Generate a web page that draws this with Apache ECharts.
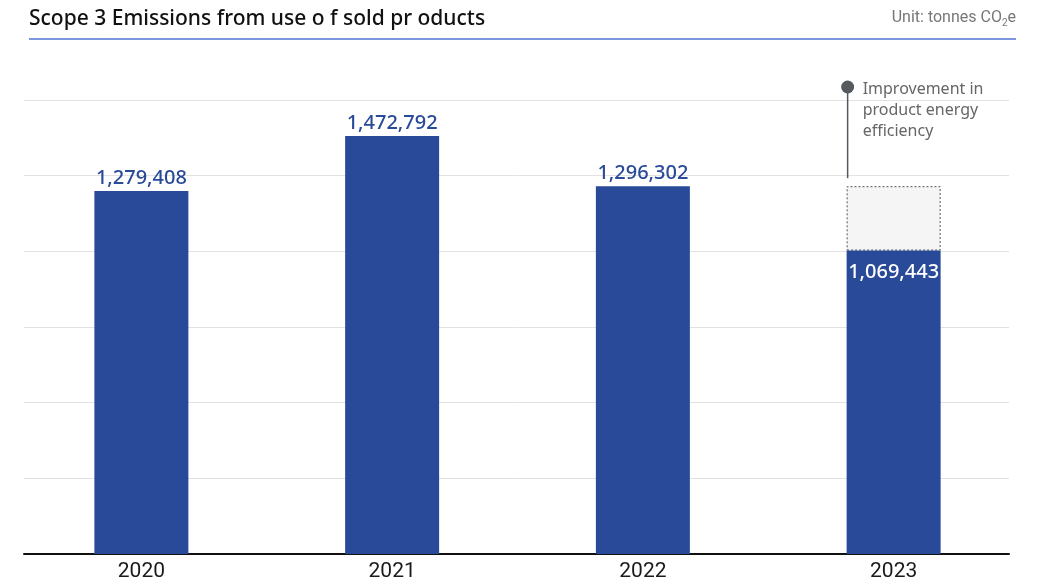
<!DOCTYPE html>
<html>
<head>
<meta charset="utf-8">
<script src="https://cdn.jsdelivr.net/npm/echarts@6/dist/echarts.min.js"></script>
<style>
  html, body { margin: 0; padding: 0; background: #ffffff; }
  #chart { width: 1049px; height: 584px; }
</style>
</head>
<body>
<div id="chart"></div>
<script>
// Scope 3 emissions from use of sold products, tonnes CO2e
const years = ['2020', '2021', '2022', '2023'];
const emissions = [1279408, 1472792, 1296302, 1069443];
// reduction shown as the dotted segment stacked on 2023
const improvement = ['-', '-', '-', 226859];
const annotationLines = ['Improvement in', 'product energy', 'efficiency'];

const BLUE = '#294a99';
const AXIS_MAX = 1600000;
const AXIS_STEP = AXIS_MAX / 6;

const fmt = v => Number(v).toLocaleString('en-US');

const chart = echarts.init(document.getElementById('chart'), null, { renderer: 'canvas' });

const emissionData = emissions.map((v, i) => {
  const last = i === emissions.length - 1;
  return {
    value: v,
    label: last
      ? { position: 'insideTop', distance: 12, color: '#ffffff' }
      : { position: 'top', distance: 3, color: BLUE }
  };
});

const option = {
  animation: false,
  backgroundColor: '#ffffff',
  grid: [
    // grid carrying the horizontal rules and the baseline
    { left: 24, right: 40, top: 100, bottom: 30 },
    // grid carrying the bars
    { left: 16, right: 30, top: 100, bottom: 30 }
  ],
  xAxis: [
    {
      gridIndex: 0, type: 'value', min: 0, max: 1,
      axisLine: { show: true, lineStyle: { color: '#111111', width: 2 } },
      axisTick: { show: false }, axisLabel: { show: false }, splitLine: { show: false }
    },
    {
      gridIndex: 1, type: 'category', data: years,
      axisLine: { show: false }, axisTick: { show: false },
      axisLabel: { color: '#1a1a1a', fontSize: 21, fontFamily: 'Roboto, sans-serif', margin: 7 }
    }
  ],
  yAxis: [
    {
      gridIndex: 0, type: 'value', min: 0, max: AXIS_MAX, interval: AXIS_STEP,
      axisLine: { show: false }, axisTick: { show: false }, axisLabel: { show: false },
      splitLine: { show: true, lineStyle: { color: '#e2e2e2', width: 1 } }
    },
    {
      gridIndex: 1, type: 'value', min: 0, max: AXIS_MAX, interval: AXIS_STEP,
      axisLine: { show: false }, axisTick: { show: false }, axisLabel: { show: false },
      splitLine: { show: false }
    }
  ],
  series: [
    {
      name: 'Emissions',
      type: 'bar',
      xAxisIndex: 1, yAxisIndex: 1,
      stack: 'total',
      barWidth: 94,
      data: emissionData,
      itemStyle: { color: BLUE },
      label: {
        show: true,
        formatter: p => fmt(p.value),
        fontSize: 20,
        fontFamily: '"Noto Sans", sans-serif',
        fontWeight: 500
      },
      z: 3
    },
    {
      name: 'Improvement',
      type: 'bar',
      xAxisIndex: 1, yAxisIndex: 1,
      stack: 'total',
      barWidth: 94,
      data: improvement,
      itemStyle: {
        color: '#f5f5f5',
        borderColor: '#555555',
        borderWidth: 1,
        borderType: [2, 2]
      },
      z: 2
    }
  ]
};

chart.setOption(option);

// Header and annotation, positioned from the bar scales
const lastIdx = years.length - 1;
const totalLast = emissions[lastIdx] + improvement[lastIdx];
const topPt = chart.convertToPixel({ xAxisIndex: 1, yAxisIndex: 1 }, [years[lastIdx], totalLast]);
const barLeft = topPt[0] - 47;
const dotY = 87;

chart.setOption({
  graphic: [
    {
      type: 'text', left: 29, top: 9,
      style: {
        text: 'Scope 3 Emissions from use o f sold pr oducts',
        fill: '#111111', fontSize: 21, fontWeight: 500,
        fontFamily: '"Noto Sans", sans-serif'
      }
    },
    {
      type: 'line',
      shape: { x1: 29, y1: 39, x2: 1016, y2: 39 },
      style: { stroke: '#7d97de', lineWidth: 2 }
    },
    {
      type: 'text', right: 33, top: 10,
      style: {
        text: '{a|Unit: tonnes CO}{s|2}{a|e}',
        rich: {
          a: { fill: '#777777', fontSize: 16, fontFamily: '"Liberation Sans Narrow", "Roboto", sans-serif', verticalAlign: 'bottom' },
          s: { fill: '#777777', fontSize: 10, fontFamily: '"Liberation Sans Narrow", "Roboto", sans-serif', verticalAlign: 'bottom', padding: [0, 0, -2, 0] }
        }
      }
    },
    {
      type: 'line',
      shape: { x1: barLeft + 1, y1: dotY, x2: barLeft + 1, y2: topPt[1] - 8 },
      style: { stroke: '#555a60', lineWidth: 1.5 }
    },
    {
      type: 'circle',
      shape: { cx: barLeft + 1, cy: dotY, r: 6.5 },
      style: { fill: '#555a60' }
    },
    {
      type: 'text', x: barLeft + 16, y: 79,
      style: {
        text: annotationLines.join('\n'),
        fill: '#666666', fontSize: 16, lineHeight: 21,
        fontFamily: '"Noto Sans", sans-serif'
      }
    }
  ]
});
</script>
</body>
</html>
